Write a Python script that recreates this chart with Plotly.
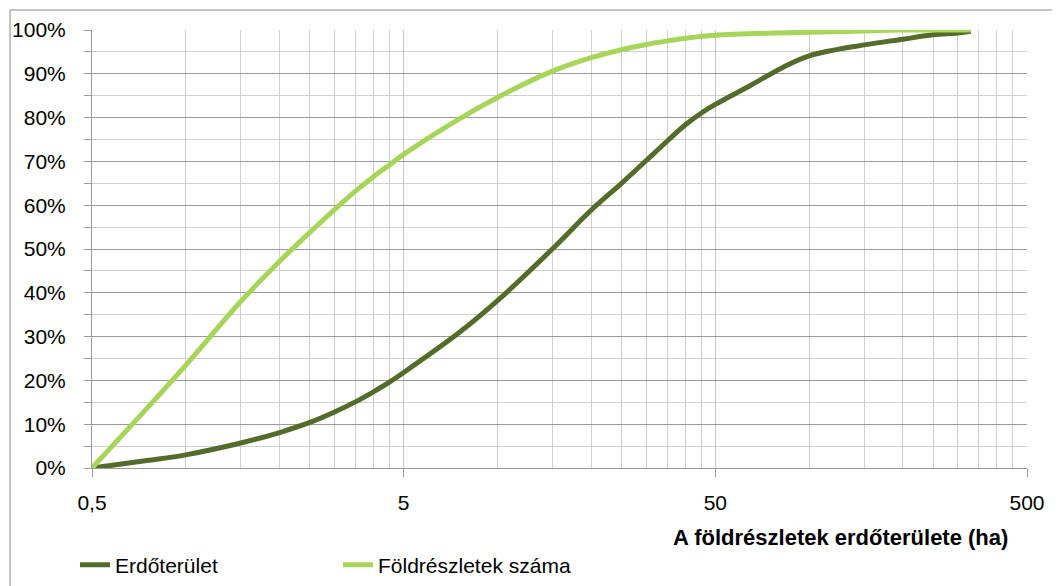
import plotly.graph_objects as go

# Data (x: ha, y: cumulative %)
area_x = [0.5, 0.75, 1, 1.5, 2, 2.5, 3, 3.5, 4, 4.5, 5, 7.5, 10, 15, 20, 25, 30, 35, 40, 45, 50, 65, 82, 100, 150, 200, 250, 300, 330]
area_y = [0, 1.7, 3.0, 5.7, 8.1, 10.4, 12.8, 15.1, 17.4, 19.6, 21.8, 30.8, 38.2, 50.0, 58.9, 65.0, 70.2, 74.6, 78.3, 81.0, 83.0, 87.4, 91.4, 94.1, 96.6, 97.9, 98.9, 99.3, 99.7]

count_x = [0.5, 0.75, 1, 1.5, 2, 2.5, 3, 3.5, 4, 4.5, 5, 7.5, 10, 15, 20, 25, 30, 35, 40, 50, 100, 150, 200, 330]
count_y = [0, 13.6, 23.5, 38.0, 47.2, 53.8, 59.0, 63.2, 66.5, 69.2, 71.6, 79.6, 84.6, 90.6, 93.7, 95.5, 96.7, 97.5, 98.1, 98.8, 99.5, 99.8, 100, 100]

series_names = ["Erdőterület", "Földrészletek száma"]
x_tick_vals = [0.5, 5, 50, 500]
x_tick_text = ["0,5", "5", "50", "500"]
x_minor_vals = [0.5 * k * 10 ** d for d in range(3) for k in range(2, 10)]
x_title = "A földrészletek erdőterülete (ha)"

FONT = "Liberation Sans, Arial, sans-serif"
DARK = "#556b2a"
LIGHT = "#a6d55a"

fig = go.Figure()
fig.add_trace(go.Scatter(x=area_x, y=[v / 100 for v in area_y], mode="lines",
                         name=series_names[0],
                         line=dict(color=DARK, width=5, shape="spline", smoothing=1)))
fig.add_trace(go.Scatter(x=count_x, y=[v / 100 for v in count_y], mode="lines",
                         name=series_names[1],
                         line=dict(color=LIGHT, width=5, shape="spline", smoothing=1)))

# page body has an 8px margin: target screen coordinates are shifted by it
OFF = 8
W, H = 1060, 586
PL, PR, PT, PB = 92, 1027, 30, 468          # plot area on screen
L, T = PL - OFF, PT - OFF
R, B = W - (PR - OFF), H - (PB - OFF)
pw, ph = W - L - R, H - T - B

def px_x(p):
    return (p - PL) / pw

def px_y(p):
    return (PB - p) / ph

fig.update_layout(
    width=W, height=H,
    margin=dict(l=L, r=R, t=T, b=B, autoexpand=False),
    paper_bgcolor="white", plot_bgcolor="white",
    font=dict(family=FONT, size=21, color="black"),
    showlegend=True,
    legend=dict(orientation="h", x=px_x(75), xanchor="left", y=px_y(565), yanchor="middle",
                entrywidth=218, entrywidthmode="pixels",
                font=dict(family=FONT, size=21, color="black"), bgcolor="rgba(0,0,0,0)"),
    xaxis=dict(type="log", range=[-0.30103, 2.69897],
               tickmode="array", tickvals=x_tick_vals, ticktext=x_tick_text,
               ticks="outside", ticklen=8, tickcolor="#9a9a9a", tickwidth=1,
               showgrid=True, gridcolor="#c8c8c8", gridwidth=1,
               showline=True, linecolor="#9a9a9a", linewidth=1,
               ticklabelstandoff=8, zeroline=False, automargin=False,
               minor=dict(tickmode="array", tickvals=x_minor_vals, showgrid=True,
                          gridcolor="#d0d0d0", gridwidth=1, ticks="")),
    yaxis=dict(range=[0, 1], tickmode="linear", tick0=0, dtick=0.1, tickformat=".0%",
               ticks="outside", ticklen=7, tickcolor="#9a9a9a",
               showgrid=True, gridcolor="#9a9a9a", gridwidth=1,
               showline=True, linecolor="#9a9a9a", linewidth=1,
               ticklabelstandoff=14, zeroline=False, automargin=False,
               minor=dict(dtick=0.05, showgrid=True, gridcolor="#d0d0d0", gridwidth=1,
                          ticks="outside", ticklen=7, tickcolor="#9a9a9a")),
    annotations=[dict(text="<b>" + x_title + "</b>", xref="paper", yref="paper",
                      x=px_x(1010), y=px_y(537), xanchor="right", yanchor="middle",
                      showarrow=False, font=dict(family=FONT, size=22, color="black"))],
    shapes=[dict(type="rect", xref="paper", yref="paper",
                 x0=px_x(10), x1=px_x(1075), y0=px_y(600), y1=px_y(10),
                 line=dict(color="#8c8c8c", width=1), layer="below")],
)

fig.write_html("out.html")
